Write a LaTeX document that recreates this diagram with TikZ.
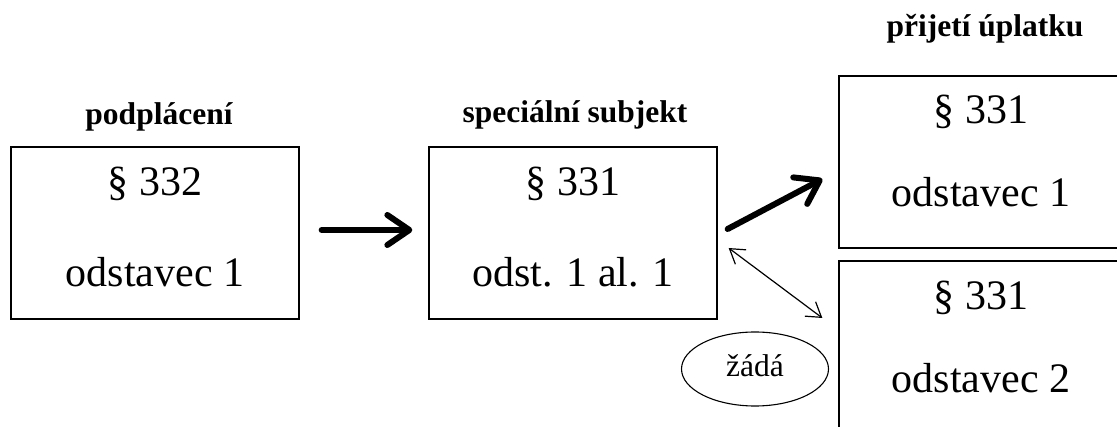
\documentclass[tikz,border=0pt]{standalone}
\usepackage{fontspec}
\setmainfont{Liberation Serif}
\usetikzlibrary{arrows.meta,shapes.geometric}
\tikzset{
  box/.style={draw, line width=1.3pt, minimum width=288pt, minimum height=172pt, inner sep=0pt},
  boxtext/.style={font=\fontsize{42}{50}\selectfont, anchor=base, inner sep=0pt},
  title/.style={font=\fontsize{31.5}{36}\selectfont\bfseries, anchor=base, inner sep=0pt},
  bigarrow/.style={line width=6pt, line cap=round, -{Straight Barb[length=22pt,width=30pt,line cap=round,line join=round]}},
  thinarrow/.style={line width=1.2pt, {Straight Barb[length=14pt,width=18pt]}-{Straight Barb[length=14pt,width=18pt]}},
  oval/.style={draw, ellipse, line width=1.1pt, minimum width=147pt, minimum height=74pt, inner sep=0pt}
}
\begin{document}
\begin{tikzpicture}[x=1pt,y=-1pt]
\useasboundingbox (0,0) rectangle (1117,427);
\clip (0,0) rectangle (1117,427);
% boxes
\node[box] (b1) at (155,233) {};
\node[box] (b2) at (573,233) {};
\node[box] (b3) at (983,162) {};
\node[box] (b4) at (983,347) {};
% box texts
\node[boxtext] (t1a) at (155,196) {§ 332};
\node[boxtext] (t1b) at (155,287) {odstavec 1};
\node[boxtext] (t2a) at (573,196) {§ 331};
\node[boxtext] (t2b) at (573,287) {odst. 1 al. 1};
\node[boxtext] (t3a) at (981,124) {§ 331};
\node[boxtext] (t3b) at (981,207) {odstavec 1};
\node[boxtext] (t4a) at (981,310) {§ 331};
\node[boxtext] (t4b) at (981,393) {odstavec 2};
% titles
\node[title] (l1) at (159,125) {podplácení};
\node[title] (l2) at (575,123) {speciální subjekt};
\node[title] (l3) at (985,37) {přijetí úplatku};
% ellipse
\node[oval] (e) at (755,369) {};
\node[font=\fontsize{31.5}{36}\selectfont, anchor=base, inner sep=0pt] (et) at (755,377) {žádá};
% arrows
\draw[bigarrow] ([xshift=22pt,yshift=3pt]b1.east) -- ([xshift=-16pt,yshift=3pt]b2.west);
\draw[bigarrow] ([xshift=10pt,yshift=4pt]b2.east) -- ([xshift=-16pt,yshift=-17pt]b3.west);
\draw[thinarrow] ([xshift=11pt,yshift=-15pt]b2.east) -- ([xshift=-16pt,yshift=29pt]b4.west);
\end{tikzpicture}
\end{document}
